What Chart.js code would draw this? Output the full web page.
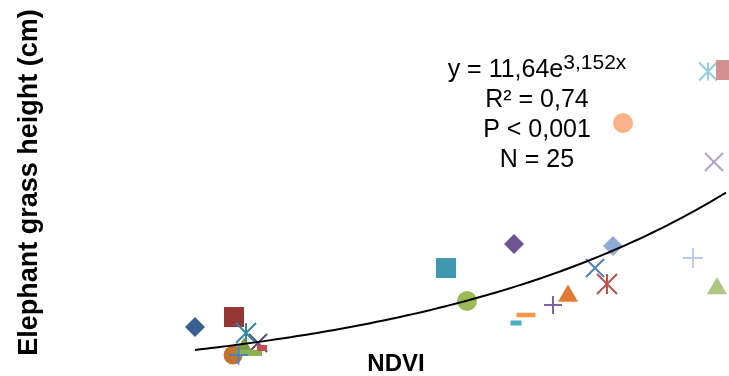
<!DOCTYPE html>
<html>
<head>
<meta charset="utf-8">
<script src="https://cdn.jsdelivr.net/npm/chart.js@4.4.1/dist/chart.umd.min.js"></script>
<style>
  html, body { margin: 0; padding: 0; background: #ffffff; }
  #wrap { width: 729px; height: 376px; position: relative; }
</style>
</head>
<body>
<div id="wrap"><canvas id="chart"></canvas></div>
<script>
// NDVI reading and measured grass height for each of the 25 plots
const ndvi = [
  0.339, 0.300, 0.338, 0.363, 0.351, 0.349, 0.356, 0.367, 0.3435,
  0.551, 0.572, 0.619, 0.631, 0.621, 0.658, 0.673, 0.700, 0.712, 0.718,
  0.813, 0.831, 0.728, 0.819, 0.798, 0.822
];
const heightCm = [
  57.1, 48.9, 25.8, 35.7, 44.0, 30.8, 27.5, 31.6, 25.8,
  97.5, 70.3, 117.3, 58.8, 52.2, 67.0, 74.5, 97.5, 84.4, 115.7,
  259.6, 260.8, 217.1, 184.9, 105.8, 80.6
];

// Marker used for each plot (one series per plot)
const markerShape = [
  'square', 'diamond', 'circle', 'x', 'star', 'triangle', 'dash', 'dash', 'plus',
  'square', 'circle', 'diamond', 'dash', 'dash', 'plus', 'triangle', 'x', 'star', 'diamond',
  'star', 'square', 'circle', 'x', 'plus', 'triangle'
];
const markerColor = [
  '#943634', '#3B5E91', '#C2742F', '#604A7B', '#36889E', '#7E9E43', '#8DB050', '#C0504D', '#4F81BD',
  '#3F98AE', '#9BBB59', '#6E5394', '#F79646', '#4BACC6', '#8064A2', '#E17B33', '#4F81BD', '#C0504D', '#8FAAD4',
  '#93CDDD', '#D4908F', '#F9B187', '#B3A2C7', '#B9CDE5', '#ADC783'
];
// marker box width in px, and stroke thickness for dashes
const markerSize = [
  20, 20, 19, 18, 20, 20, 22, 10, 19,
  20, 20, 20, 19, 11, 18, 20, 18, 20, 20,
  18, 20, 20, 18, 20, 20
];
const dashThickness = [
  0, 0, 0, 0, 0, 0, 6, 6, 0,
  0, 0, 0, 4.5, 5, 0, 0, 0, 0, 0,
  0, 0, 0, 0, 0, 0
];

// Exponential fit: height = a * e^(b * NDVI)
const fitA = 11.64;
const fitB = 3.152;
const fitLines = ['R\u00B2 = 0,74', 'P < 0,001', 'N = 25'];

// Axis ranges (axes themselves are not drawn)
const xRange = [0.168, 0.834];
const yRange = [17.57, 318.5];

const FONT = '"Liberation Sans", Arial, sans-serif';
const SQ2 = Math.SQRT2;

function markerDatasets(i) {
  const pt = [{ x: ndvi[i], y: heightCm[i] }];
  const c = markerColor[i];
  const s = markerSize[i];
  const base = {
    data: pt, clip: false, order: 200 - i * 2,
    pointBackgroundColor: c, pointBorderColor: c,
    pointHoverRadius: 0
  };
  switch (markerShape[i]) {
    case 'square':
      return [Object.assign({}, base, { pointStyle: 'rect', pointRadius: s / 2 * SQ2, pointBorderWidth: 0 })];
    case 'diamond':
      return [Object.assign({}, base, { pointStyle: 'rectRot', pointRadius: s / 2, pointBorderWidth: 0 })];
    case 'circle':
      return [Object.assign({}, base, { pointStyle: 'circle', pointRadius: s / 2, pointBorderWidth: 0 })];
    case 'triangle':
      return [Object.assign({}, base, { pointStyle: 'triangle', pointRadius: s / Math.sqrt(3), pointBorderWidth: 0 })];
    case 'x':
      return [Object.assign({}, base, { pointStyle: 'crossRot', pointRadius: s / 2 * SQ2, pointBorderWidth: 2 })];
    case 'plus':
      return [Object.assign({}, base, { pointStyle: 'cross', pointRadius: s / 2, pointBorderWidth: 2 })];
    case 'dash':
      return [Object.assign({}, base, { pointStyle: 'line', pointRadius: s / 2, pointBorderWidth: dashThickness[i] })];
    case 'star':
      // asterisk: diagonal cross plus a vertical stroke
      return [
        Object.assign({}, base, { pointStyle: 'crossRot', pointRadius: s / 2 * SQ2, pointBorderWidth: 2 }),
        Object.assign({}, base, { pointStyle: 'line', pointRotation: 90, pointRadius: s / 2, pointBorderWidth: 2, order: 199 - i * 2 })
      ];
  }
  return [];
}

// Fitted curve over the observed NDVI span
const xLo = Math.min(...ndvi);
const xHi = Math.max(...ndvi);
const curve = [];
for (let k = 0; k <= 100; k++) {
  const x = xLo + (xHi - xLo) * k / 100;
  curve.push({ x: x, y: fitA * Math.exp(fitB * x) });
}

const datasets = [{
  data: curve, showLine: true, borderColor: '#000000', borderWidth: 2,
  pointRadius: 0, pointHoverRadius: 0, fill: false, tension: 0, clip: false, order: 0
}];
ndvi.forEach((_, i) => datasets.push(...markerDatasets(i)));

// Equation and statistics printed beside the curve
const fitLabelAt = { x: 0.642, y: 255 };
const fitLabel = {
  id: 'fitLabel',
  afterDatasetsDraw(chart) {
    const ctx = chart.ctx;
    const cx = chart.scales.x.getPixelForValue(fitLabelAt.x);
    const y0 = chart.scales.y.getPixelForValue(fitLabelAt.y);
    const step = 30;
    ctx.save();
    ctx.fillStyle = '#000000';
    ctx.textBaseline = 'alphabetic';
    ctx.textAlign = 'left';
    const main = 'y = ' + String(fitA).replace('.', ',') + 'e';
    const sup = String(fitB).replace('.', ',') + 'x';
    ctx.font = '25px ' + FONT;
    const w1 = ctx.measureText(main).width;
    ctx.font = '21px ' + FONT;
    const w2 = ctx.measureText(sup).width;
    const start = cx - (w1 + w2) / 2;
    ctx.font = '25px ' + FONT;
    ctx.fillText(main, start, y0);
    ctx.font = '21px ' + FONT;
    ctx.fillText(sup, start + w1, y0 - 8);
    ctx.font = '25px ' + FONT;
    ctx.textAlign = 'center';
    fitLines.forEach((t, k) => ctx.fillText(t, cx, y0 + step * (k + 1)));
    ctx.restore();
  }
};

new Chart(document.getElementById('chart'), {
  type: 'scatter',
  data: { datasets: datasets },
  options: {
    responsive: true,
    maintainAspectRatio: false,
    animation: false,
    events: [],
    layout: { autoPadding: false, padding: 0 },
    plugins: { legend: { display: false }, tooltip: { enabled: false } },
    scales: {
      x: {
        type: 'linear', min: xRange[0], max: xRange[1],
        ticks: { display: false },
        grid: { display: false, drawTicks: false },
        border: { display: false },
        title: {
          display: true, text: 'NDVI', color: '#000000',
          font: { family: FONT, size: 24, weight: 'bold', lineHeight: 1.2 },
          padding: { top: -14.9, bottom: -2.9 }
        }
      },
      y: {
        type: 'linear', min: yRange[0], max: yRange[1],
        ticks: { display: false },
        grid: { display: false, drawTicks: false },
        border: { display: false },
        title: {
          display: true, text: 'Elephant grass height (cm)', color: '#000000',
          font: { family: FONT, size: 27, weight: 'bold', lineHeight: 1.2 },
          padding: { top: 13.8, bottom: 16.8 }
        }
      }
    }
  },
  plugins: [fitLabel]
});
</script>
</body>
</html>
